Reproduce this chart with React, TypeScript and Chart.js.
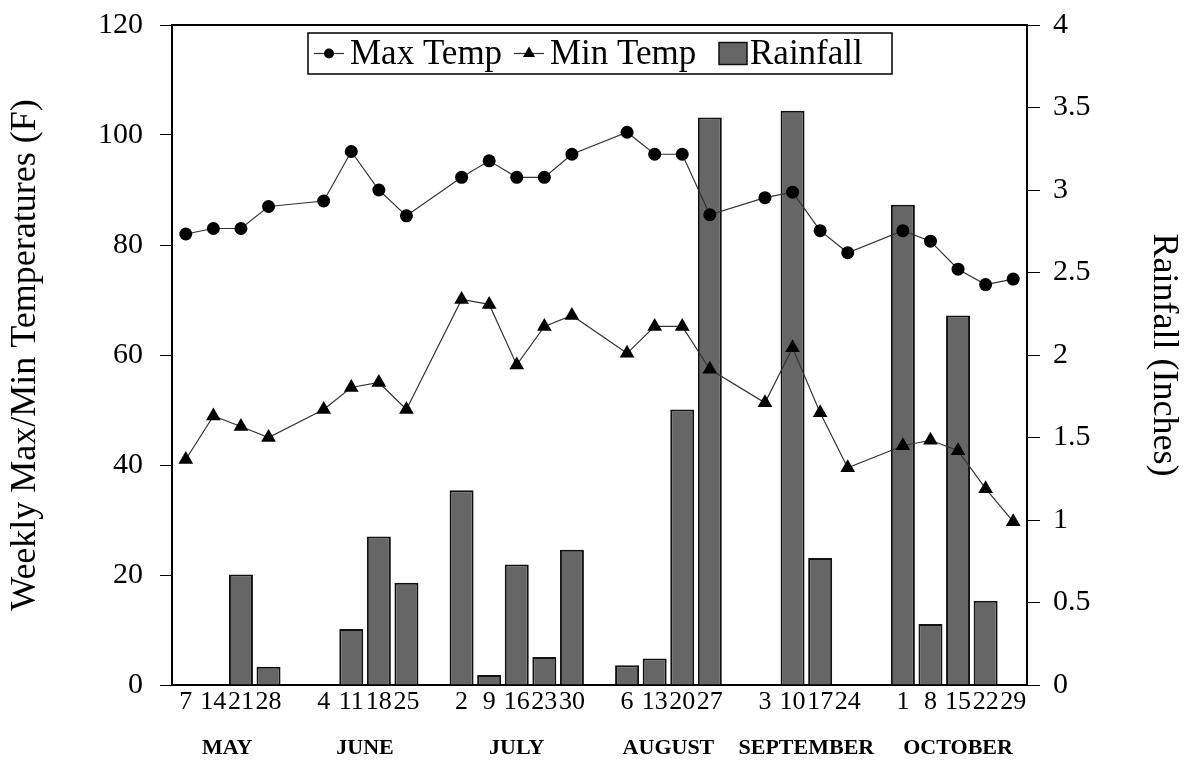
import React, { useEffect, useRef } from "react";
import { Chart, registerables } from "chart.js";

Chart.register(...registerables);

// Weekly categories (empty strings separate the months)
const dayLabels = [
  "7", "14", "21", "28", "",
  "4", "11", "18", "25", "",
  "2", "9", "16", "23", "30", "",
  "6", "13", "20", "27", "",
  "3", "10", "17", "24", "",
  "1", "8", "15", "22", "29",
];

const monthNames = ["MAY", "JUNE", "JULY", "AUGUST", "SEPTEMBER", "OCTOBER"];
const monthCenters = [1.5, 6.5, 12, 17.5, 22.5, 28];

const maxTemp = [
  82, 83, 83, 87, null,
  88, 97, 90, 85.3, null,
  92.3, 95.3, 92.3, 92.3, 96.5, null,
  100.5, 96.5, 96.5, 85.5, null,
  88.6, 89.6, 82.6, 78.6, null,
  82.6, 80.7, 75.6, 72.8, 73.8,
];

const minTemp = [
  41, 48.9, 47, 45, null,
  50.1, 54.1, 55, 50.1, null,
  70.1, 69.2, 58.2, 65.2, 67.2, null,
  60.3, 65.2, 65.2, 57.4, null,
  51.3, 61.3, 49.5, 39.5, null,
  43.5, 44.5, 42.6, 35.7, 29.7,
];

const rainfall = [
  0, 0, 0.67, 0.11, null,
  0, 0.34, 0.9, 0.62, null,
  1.18, 0.06, 0.73, 0.17, 0.82, null,
  0.12, 0.16, 1.67, 3.44, null,
  0, 3.48, 0.77, 0, null,
  2.91, 0.37, 2.24, 0.51, 0,
];

const tempTicks = { min: 0, max: 120, step: 20 };
const rainTicks = { min: 0, max: 4, step: 0.5 };

const SERIF = '"Liberation Serif", "Times New Roman", Times, serif';
const BAR_FILL = "#666666";

const frameAndLegend = {
  id: "frameAndLegend",
  afterDraw(chart: any) {
    const ctx = chart.ctx as CanvasRenderingContext2D;
    const { left, right, top } = chart.chartArea;
    ctx.save();
    // top frame line
    ctx.strokeStyle = "#000";
    ctx.lineWidth = 2;
    ctx.beginPath();
    ctx.moveTo(left, top);
    ctx.lineTo(right, top);
    ctx.stroke();

    // legend box
    const boxW = 584;
    const boxH = 41;
    const x0 = Math.round((left + right) / 2 - boxW / 2);
    const y0 = top + 8;
    const my = y0 + boxH / 2;
    ctx.fillStyle = "#fff";
    ctx.fillRect(x0, y0, boxW, boxH);
    ctx.lineWidth = 1.5;
    ctx.strokeStyle = "#000";
    ctx.strokeRect(x0, y0, boxW, boxH);

    ctx.font = `35px ${SERIF}`;
    ctx.fillStyle = "#000";
    ctx.textBaseline = "middle";
    ctx.textAlign = "left";

    // Max Temp
    ctx.lineWidth = 1.2;
    ctx.strokeStyle = "#333";
    ctx.beginPath();
    ctx.moveTo(x0 + 6, my);
    ctx.lineTo(x0 + 36, my);
    ctx.stroke();
    ctx.beginPath();
    ctx.arc(x0 + 21, my, 5, 0, Math.PI * 2);
    ctx.fill();
    ctx.fillText("Max Temp", x0 + 42, my + 1);

    // Min Temp
    const mx = x0 + 206;
    ctx.beginPath();
    ctx.moveTo(mx, my);
    ctx.lineTo(mx + 30, my);
    ctx.stroke();
    const r = 7;
    const tcx = mx + 15;
    ctx.beginPath();
    ctx.moveTo(tcx, my - r);
    ctx.lineTo(tcx + r * 0.866, my + r * 0.5);
    ctx.lineTo(tcx - r * 0.866, my + r * 0.5);
    ctx.closePath();
    ctx.fill();
    ctx.fillText("Min Temp", mx + 36, my + 1);

    // Rainfall
    const rx = x0 + 411;
    ctx.fillStyle = BAR_FILL;
    ctx.fillRect(rx, my - 11, 28, 22);
    ctx.lineWidth = 1.5;
    ctx.strokeStyle = "#111";
    ctx.strokeRect(rx, my - 11, 28, 22);
    ctx.fillStyle = "#000";
    ctx.fillText("Rainfall", rx + 31, my + 1);
    ctx.restore();
  },
};

export default function App() {
  const canvasRef = useRef<HTMLCanvasElement | null>(null);

  useEffect(() => {
    const canvas = canvasRef.current;
    if (!canvas) return;
    const chart = new Chart(canvas, {
      type: "bar",
      data: {
        labels: dayLabels,
        datasets: [
          {
            type: "line",
            label: "Max Temp",
            data: maxTemp,
            yAxisID: "y",
            xAxisID: "x",
            borderColor: "#333",
            borderWidth: 1.2,
            pointStyle: "circle",
            pointRadius: 6.5,
            pointBackgroundColor: "#000",
            pointBorderColor: "#000",
            pointBorderWidth: 0,
            spanGaps: true,
            tension: 0,
            order: 0,
          },
          {
            type: "line",
            label: "Min Temp",
            data: minTemp,
            yAxisID: "y",
            xAxisID: "x",
            borderColor: "#333",
            borderWidth: 1.2,
            pointStyle: "triangle",
            pointRadius: 8.5,
            pointBackgroundColor: "#000",
            pointBorderColor: "#000",
            pointBorderWidth: 0,
            spanGaps: true,
            tension: 0,
            order: 1,
          },
          {
            type: "bar",
            label: "Rainfall",
            data: rainfall,
            yAxisID: "y1",
            xAxisID: "x",
            backgroundColor: BAR_FILL,
            borderColor: "#111",
            borderWidth: 2,
            barPercentage: 0.87,
            categoryPercentage: 1,
            order: 2,
          },
        ],
      } as any,
      options: {
        responsive: false,
        animation: false,
        layout: { padding: { top: 25, left: 0, right: 0, bottom: 0 } },
        plugins: {
          legend: { display: false },
          tooltip: { enabled: false },
        },
        scales: {
          x: {
            type: "category",
            position: "bottom",
            weight: 0,
            offset: true,
            grid: { display: false, drawTicks: false },
            border: { display: true, color: "#000", width: 2 },
            ticks: {
              autoSkip: false,
              maxRotation: 0,
              minRotation: 0,
              padding: 2,
              color: "#000",
              font: { family: SERIF, size: 26 },
            },
            afterFit: (s: any) => {
              s.height = 40;
            },
          },
          x2: {
            type: "linear",
            position: "bottom",
            weight: 1,
            offset: false,
            min: -0.5,
            max: 30.5,
            afterBuildTicks: (s: any) => {
              s.ticks = monthCenters.map((v) => ({ value: v }));
            },
            grid: { display: false, drawTicks: false, offset: false },
            border: { display: false },
            ticks: {
              autoSkip: false,
              maxRotation: 0,
              minRotation: 0,
              padding: 10,
              color: "#000",
              font: { family: SERIF, size: 22, weight: "bold" },
              callback: (_v: any, i: number) => monthNames[i],
            },
            afterFit: (s: any) => {
              s.height = 37;
            },
          },
          y: {
            type: "linear",
            position: "left",
            min: tempTicks.min,
            max: tempTicks.max,
            ticks: {
              stepSize: tempTicks.step,
              padding: 17,
              color: "#000",
              font: { family: SERIF, size: 30 },
            },
            grid: {
              display: true,
              drawOnChartArea: false,
              drawTicks: true,
              tickLength: 12,
              color: "#000",
              lineWidth: 1,
            },
            border: { display: true, color: "#000", width: 2 },
            title: {
              display: true,
              text: "Weekly Max/Min Temperatures (F)",
              color: "#000",
              font: { family: SERIF, size: 36 },
              padding: { top: 4, bottom: 0 },
            },
            afterFit: (s: any) => {
              s.width = 172;
              s.paddingTop = 10;
              s.paddingBottom = 10;
            },
          },
          y1: {
            type: "linear",
            position: "right",
            min: rainTicks.min,
            max: rainTicks.max,
            ticks: {
              stepSize: rainTicks.step,
              padding: 13,
              color: "#000",
              font: { family: SERIF, size: 30 },
              callback: (v: any) => String(v),
            },
            grid: {
              display: true,
              drawOnChartArea: false,
              drawTicks: true,
              tickLength: 13,
              color: "#000",
              lineWidth: 1,
            },
            border: { display: true, color: "#000", width: 2 },
            title: {
              display: true,
              text: "Rainfall (Inches)",
              color: "#000",
              font: { family: SERIF, size: 36 },
              padding: { top: 0, bottom: 0 },
            },
            afterFit: (s: any) => {
              s.width = 158;
              s.paddingTop = 10;
              s.paddingBottom = 10;
            },
          },
        },
      } as any,
      plugins: [frameAndLegend],
    });
    return () => chart.destroy();
  }, []);

  return (
    <div
      style={{
        position: "fixed",
        left: 0,
        top: 0,
        width: 1185,
        height: 762,
        background: "#fff",
      }}
    >
      <canvas
        ref={canvasRef}
        width={1185}
        height={762}
        style={{ display: "block", width: 1185, height: 762 }}
      />
    </div>
  );
}
